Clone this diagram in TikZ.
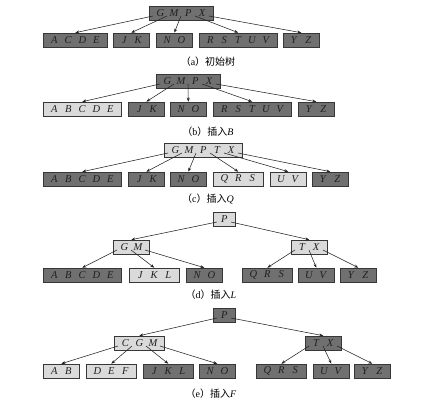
\documentclass[tikz,border=0pt]{standalone}
\usepackage{fontspec}
\setmainfont{Liberation Serif}
\newfontfamily\cjk{Noto Sans CJK SC}
\usetikzlibrary{arrows.meta}
\definecolor{darkfill}{RGB}{112,112,112}
\definecolor{lightfill}{RGB}{218,218,218}
\definecolor{edgecol}{RGB}{55,55,55}
\definecolor{linecol}{RGB}{35,35,35}
\newcommand\ky[1]{\makebox[14pt]{\textit{#1}}}
\newcommand\ptrto[3]{\draw[ptr] ([xshift=\the\numexpr4+14*#2\relax pt,yshift=-3pt]#1.west) -- (#3.north);}
\begin{document}
\begin{tikzpicture}[x=1pt,y=-1pt,
  bnode/.style={draw=edgecol, line width=0.6pt, minimum height=14pt, inner sep=0pt, anchor=west, font=\fontsize{10.5}{12}\selectfont, text=black!88},
  nk/.style={minimum width={14pt*#1+8pt}},
  dk/.style={bnode, fill=darkfill},
  lt/.style={bnode, fill=lightfill},
  ptr/.style={draw=linecol, line width=0.55pt, -{Stealth[length=4pt,width=3pt]}},
  captext/.style={font=\fontsize{10}{12}\selectfont}]
\useasboundingbox (0,0) rectangle (422,406);
% (a)
\node[dk,nk=4] (ra) at (149,13) {\ky{G}\ky{M}\ky{P}\ky{X}};
\node[dk,nk=4] (a1) at (43,40) {\ky{A}\ky{C}\ky{D}\ky{E}};
\node[dk,nk=2] (a2) at (113,40) {\ky{J}\ky{K}};
\node[dk,nk=2] (a3) at (156,40) {\ky{N}\ky{O}};
\node[dk,nk=5] (a4) at (199,40) {\ky{R}\ky{S}\ky{T}\ky{U}\ky{V}};
\node[dk,nk=2] (a5) at (283,40) {\ky{Y}\ky{Z}};
\ptrto{ra}{0}{a1}\ptrto{ra}{1}{a2}\ptrto{ra}{2}{a3}\ptrto{ra}{3}{a4}\ptrto{ra}{4}{a5}
\node[captext] (capa) at (208,62) {{\cjk （}a{\cjk ）初始树}};
% (b)
\node[dk,nk=4] (rb) at (156,81) {\ky{G}\ky{M}\ky{P}\ky{X}};
\node[lt,nk=5] (b1) at (43,109) {\ky{A}\ky{B}\ky{C}\ky{D}\ky{E}};
\node[dk,nk=2] (b2) at (128,109) {\ky{J}\ky{K}};
\node[dk,nk=2] (b3) at (170,109) {\ky{N}\ky{O}};
\node[dk,nk=5] (b4) at (213,109) {\ky{R}\ky{S}\ky{T}\ky{U}\ky{V}};
\node[dk,nk=2] (b5) at (298,109) {\ky{Y}\ky{Z}};
\ptrto{rb}{0}{b1}\ptrto{rb}{1}{b2}\ptrto{rb}{2}{b3}\ptrto{rb}{3}{b4}\ptrto{rb}{4}{b5}
\node[captext] (capb) at (208,132) {{\cjk （}b{\cjk ）插入}\textit{B}};
% (c)
\node[lt,nk=5] (rc) at (164,150) {\ky{G}\ky{M}\ky{P}\ky{T}\ky{X}};
\node[dk,nk=5] (c1) at (43,179) {\ky{A}\ky{B}\ky{C}\ky{D}\ky{E}};
\node[dk,nk=2] (c2) at (128,179) {\ky{J}\ky{K}};
\node[dk,nk=2] (c3) at (170,179) {\ky{N}\ky{O}};
\node[lt,nk=3] (c4) at (213,179) {\ky{Q}\ky{R}\ky{S}};
\node[lt,nk=2] (c5) at (270,179) {\ky{U}\ky{V}};
\node[dk,nk=2] (c6) at (312,179) {\ky{Y}\ky{Z}};
\ptrto{rc}{0}{c1}\ptrto{rc}{1}{c2}\ptrto{rc}{2}{c3}\ptrto{rc}{3}{c4}\ptrto{rc}{4}{c5}\ptrto{rc}{5}{c6}
\node[captext] (capc) at (208,199) {{\cjk （}c{\cjk ）插入}\textit{Q}};
% (d)
\node[lt,nk=1] (rd) at (213,219) {\ky{P}};
\node[lt,nk=2] (dl) at (113,247) {\ky{G}\ky{M}};
\node[lt,nk=2] (dr) at (291,247) {\ky{T}\ky{X}};
\node[dk,nk=5] (d1) at (43,275) {\ky{A}\ky{B}\ky{C}\ky{D}\ky{E}};
\node[lt,nk=3] (d2) at (129,275) {\ky{J}\ky{K}\ky{L}};
\node[dk,nk=2] (d3) at (186,275) {\ky{N}\ky{O}};
\node[dk,nk=3] (d4) at (242,275) {\ky{Q}\ky{R}\ky{S}};
\node[dk,nk=2] (d5) at (298,275) {\ky{U}\ky{V}};
\node[dk,nk=2] (d6) at (340,275) {\ky{Y}\ky{Z}};
\ptrto{rd}{0}{dl}\ptrto{rd}{1}{dr}
\ptrto{dl}{0}{d1}\ptrto{dl}{1}{d2}\ptrto{dl}{2}{d3}
\ptrto{dr}{0}{d4}\ptrto{dr}{1}{d5}\ptrto{dr}{2}{d6}
\node[captext] (capd) at (211,295) {{\cjk （}d{\cjk ）插入}\textit{L}};
% (e)
\node[dk,nk=1] (re) at (213,315) {\ky{P}};
\node[lt,nk=3] (el) at (114,343) {\ky{C}\ky{G}\ky{M}};
\node[dk,nk=2] (er) at (305,343) {\ky{T}\ky{X}};
\node[lt,nk=2] (e1) at (43,371) {\ky{A}\ky{B}};
\node[lt,nk=3] (e2) at (86,371) {\ky{D}\ky{E}\ky{F}};
\node[dk,nk=3] (e3) at (143,371) {\ky{J}\ky{K}\ky{L}};
\node[dk,nk=2] (e4) at (199,371) {\ky{N}\ky{O}};
\node[dk,nk=3] (e5) at (256,371) {\ky{Q}\ky{R}\ky{S}};
\node[dk,nk=2] (e6) at (313,371) {\ky{U}\ky{V}};
\node[dk,nk=2] (e7) at (354,371) {\ky{Y}\ky{Z}};
\ptrto{re}{0}{el}\ptrto{re}{1}{er}
\ptrto{el}{0}{e1}\ptrto{el}{1}{e2}\ptrto{el}{2}{e3}\ptrto{el}{3}{e4}
\ptrto{er}{0}{e5}\ptrto{er}{1}{e6}\ptrto{er}{2}{e7}
\node[captext] (cape) at (211,394) {{\cjk （}e{\cjk ）插入}\textit{F}};
\end{tikzpicture}
\end{document}
